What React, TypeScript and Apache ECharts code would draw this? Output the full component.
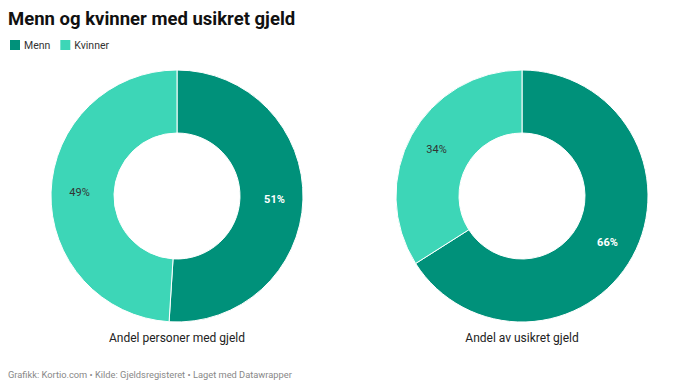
import React, { useEffect, useRef } from "react";
import * as echarts from "echarts";

const categories = ["Menn", "Kvinner"];
const personerMedGjeld = [51, 49];
const usikretGjeld = [66, 34];
const chartLabels = ["Andel personer med gjeld", "Andel av usikret gjeld"];
const colors = ["#00917a", "#3dd6b7"];

export default function App() {
  const ref = useRef<HTMLDivElement>(null);
  useEffect(() => {
    if (!ref.current) return;
    const chart = echarts.init(ref.current, undefined, { renderer: "svg" });
    const mk = (vals: number[], cx: number) => ({
      type: "pie",
      center: [cx, 196],
      radius: [63, 126],
      startAngle: 90,
      clockwise: true,
      silent: true,
      itemStyle: { borderColor: "#ffffff", borderWidth: 1 },
      label: {
        show: true,
        position: "inside",
        formatter: "{c}%",
        fontFamily: "Roboto",
        fontSize: 11,
      },
      labelLine: { show: false },
      data: vals.map((v, i) => ({
        name: categories[i],
        value: v,
        itemStyle: { color: colors[i] },
        label: i === 0 ? { color: "#ffffff", fontWeight: "bold" } : { color: "#333333" },
      })),
    });
    chart.setOption({
      animation: false,
      backgroundColor: "#ffffff",
      title: [
        {
          text: "Menn og kvinner med usikret gjeld",
          left: 8,
          top: 9,
          padding: 0,
          textStyle: { fontFamily: "Roboto", fontSize: 18.5, fontWeight: "bold", color: "#111111" },
        },
        {
          text: chartLabels[0],
          left: 177,
          top: 332,
          padding: 0,
          textAlign: "center",
          textStyle: { fontFamily: "Roboto", fontSize: 12, fontWeight: "normal", color: "#222222" },
        },
        {
          text: chartLabels[1],
          left: 522,
          top: 332,
          padding: 0,
          textAlign: "center",
          textStyle: { fontFamily: "Roboto", fontSize: 12, fontWeight: "normal", color: "#222222" },
        },
        {
          text: "Grafikk: Kortio.com • Kilde: Gjeldsregisteret • Laget med Datawrapper",
          left: 8,
          top: 370,
          padding: 0,
          textStyle: { fontFamily: "Roboto", fontSize: 9.3, fontWeight: "normal", color: "#888888" },
        },
      ],
      legend: {
        left: 8,
        top: 38,
        icon: "rect",
        itemWidth: 12,
        itemHeight: 12,
        itemGap: 8,
        selectedMode: false,
        data: categories,
        textStyle: { fontFamily: "Roboto", fontSize: 10.5, color: "#333333", padding: [0, 0, 0, -2] },
        padding: 0,
      },
      series: [mk(personerMedGjeld, 177), mk(usikretGjeld, 522)],
    });
    return () => chart.dispose();
  }, []);
  return <div ref={ref} style={{ width: 700, height: 389, position: "absolute", left: 0, top: 0 }} />;
}
